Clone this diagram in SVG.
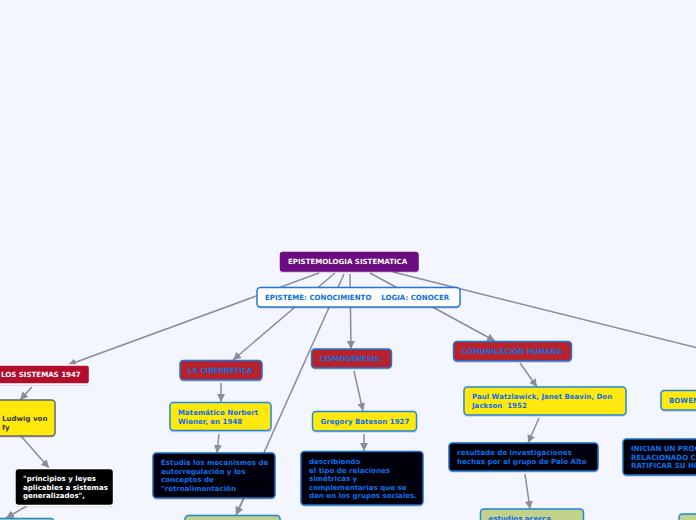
<svg xmlns="http://www.w3.org/2000/svg" width="696" height="520" viewBox="0 0 696 520">
<style>
text{font-family:"DejaVu Sans",Verdana,sans-serif;font-weight:700;font-size:7.05px}
.n{stroke-width:1.4;filter:url(#s)}
.bl{fill:#0f6fe0}
.wh{fill:#fff}
.r{fill:#b8202c;stroke:#1f77d8}
.y{fill:#ffe90f;stroke:#1f86e0}
.k{fill:#02040a;stroke:#1a6fc8}
.g{fill:#c2d28a;stroke:#1f86e0}
#connectors line{stroke:#8a8d96;stroke-width:1.5;marker-end:url(#a)}
</style>
<defs><marker id="a" markerUnits="userSpaceOnUse" markerWidth="10" markerHeight="8" refX="8" refY="4" orient="auto"><path d="M0 0L8 4L0 8Z" fill="#8a8d96"/></marker>
<filter id="s" x="-10%" y="-20%" width="120%" height="140%"><feDropShadow dx="0" dy="0.6" stdDeviation="0.7" flood-color="#000" flood-opacity="0.25"/></filter></defs>
<rect width="696" height="520" fill="#f3f6ff"/>
<g id="connectors">
<line x1="319" y1="273" x2="68" y2="365"/>
<line x1="335" y1="273" x2="233" y2="360"/>
<line x1="344" y1="274" x2="236" y2="515"/>
<line x1="350" y1="274" x2="351" y2="349"/>
<line x1="370" y1="273" x2="495" y2="341"/>
<line x1="393" y1="272" x2="710" y2="351"/>
<line x1="32" y1="387" x2="20" y2="400"/>
<line x1="21" y1="436" x2="49" y2="468"/>
<line x1="27" y1="506" x2="6" y2="518"/>
<line x1="221" y1="383" x2="221" y2="402"/>
<line x1="219" y1="434" x2="217" y2="453"/>
<line x1="244" y1="498" x2="236" y2="515"/>
<line x1="354" y1="371" x2="363" y2="411"/>
<line x1="364" y1="434" x2="364" y2="451"/>
<line x1="520" y1="363" x2="537" y2="387"/>
<line x1="539" y1="418" x2="528" y2="443"/>
<line x1="525" y1="474" x2="530" y2="509"/>
</g>
<g id="root"><rect class="n" x="280.500" y="252.500" width="137.500" height="18.500" rx="2.500" fill="#6a0a80" stroke="#6a0a80"/><text class="wh" x="288" y="264">EPISTEMOLOGIA SISTEMATICA</text></g>
<g id="episteme"><rect class="n" x="257" y="287.500" width="203" height="19.500" rx="3.500" fill="#fff" stroke="#1f77d8"/><text class="bl" x="265" y="300" xml:space="preserve">EPISTEME: CONOCIMIENTO    LOGIA: CONOCER</text></g>
<g id="sistemas"><rect class="n" x="-30" y="365" width="119.500" height="19" rx="2.500" fill="#b30d2f" stroke="#fff"/><text class="wh" x="1" y="377">LOS SISTEMAS 1947</text></g>
<g id="ludwig"><rect class="n" x="-40" y="400" width="95" height="36" rx="3.500" fill="#ffe90f" stroke="#666"/><text fill="#333" x="2" y="421">Ludwig von</text><text fill="#333" x="2" y="429.500">fy</text></g>
<g id="principios"><rect class="n" x="15" y="468.500" width="98.500" height="37" rx="3.500" fill="#000" stroke="#fff"/><text class="wh" x="23" y="481">"principios y leyes</text><text class="wh" x="23" y="489.500">aplicables a sistemas</text><text class="wh" x="23" y="498">generalizados",</text></g>
<g id="left-bottom"><rect class="n" x="-40" y="518.500" width="94" height="20" rx="3.500" fill="#c2d28a" stroke="#1f86e0"/></g>
<g id="cibernetica"><rect class="n r" x="180" y="360.500" width="82" height="19.500" rx="3.500"/><text class="bl" x="188" y="373">LA CIBERNETICA</text></g>
<g id="norbert"><rect class="n y" x="170" y="402.500" width="101" height="28" rx="3.500"/><text class="bl" x="178" y="415">Matemático Norbert</text><text class="bl" x="178" y="423.500">Wiener, en 1948</text></g>
<g id="estudia"><rect class="n k" x="153" y="453" width="122" height="45" rx="3.500"/><text class="bl" x="161" y="465">Estudia los mecanismos de</text><text class="bl" x="161" y="473.500">autorregulación y los</text><text class="bl" x="161" y="482">conceptos de</text><text class="bl" x="161" y="491">"retroalimentación</text></g>
<g id="ciber-bottom"><rect class="n g" x="185" y="515.500" width="95" height="20" rx="3.500"/></g>
<g id="cismogenesis"><rect class="n r" x="311.500" y="349" width="80" height="19" rx="3.500"/><text class="bl" x="319.500" y="361">CISMOGENESIS,</text></g>
<g id="bateson"><rect class="n y" x="312.500" y="411.500" width="104" height="19.500" rx="3.500"/><text class="bl" x="320.500" y="424">Gregory Bateson 1927</text></g>
<g id="describiendo"><rect class="n k" x="301" y="451.500" width="122" height="53.500" rx="3.500"/><text class="bl" x="309" y="464">describiendo</text><text class="bl" x="309" y="472.500">el tipo de relaciones</text><text class="bl" x="309" y="481">simétricas y</text><text class="bl" x="309" y="489.500">complementarias que se</text><text class="bl" x="309" y="498">dan en los grupos sociales.</text></g>
<g id="comunicacion"><rect class="n r" x="453.500" y="341.500" width="118" height="19.500" rx="3.500"/><text class="bl" x="461.500" y="354">COMUNICACIÓN HUMANA</text></g>
<g id="paul"><rect class="n y" x="464" y="387" width="162" height="28" rx="3.500"/><text class="bl" x="472" y="399">Paul Watzlawick, Janet Beavin, Don</text><text class="bl" x="472" y="408" xml:space="preserve">Jackson  1952</text></g>
<g id="resultado"><rect class="n k" x="449" y="443" width="149" height="28" rx="3.500"/><text class="bl" x="457" y="455">resultado de investigaciones</text><text class="bl" x="457" y="464">hechas por el grupo de Palo Alto</text></g>
<g id="estudios"><rect class="n g" x="480.500" y="509" width="103" height="30" rx="3.500"/><text class="bl" x="488.500" y="521">estudios acerca</text></g>
<g id="bowen"><rect class="n y" x="661" y="390.500" width="80" height="19.500" rx="3.500"/><text class="bl" x="669" y="403">BOWEN</text></g>
<g id="inician"><rect class="n k" x="623" y="439" width="120" height="36" rx="3.500"/><text class="bl" x="631" y="451">INICIAN UN PROCESO</text><text class="bl" x="631" y="460">RELACIONADO CON</text><text class="bl" x="631" y="468">RATIFICAR SU HIPOTESIS</text></g>
<g id="right-bottom"><rect class="n g" x="679" y="514" width="60" height="20" rx="3.500"/></g>
</svg>
